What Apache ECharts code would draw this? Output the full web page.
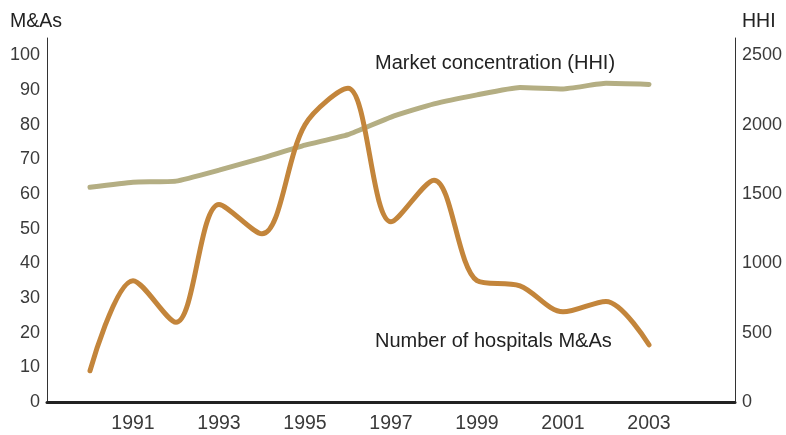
<!DOCTYPE html>
<html>
<head>
<meta charset="utf-8">
<script src="https://cdn.jsdelivr.net/npm/echarts@6/dist/echarts.min.js"></script>
<style>
  html, body { margin: 0; padding: 0; background: #fff; }
  #chart { width: 786px; height: 435px; }
</style>
</head>
<body>
<div id="chart"></div>
<script>
// data
var years = [1990, 1991, 1992, 1993, 1994, 1995, 1996, 1997, 1998, 1999, 2000, 2001, 2002, 2003];
var mergers = [9, 35, 23, 57, 48.5, 80, 90.5, 52, 64, 35, 33.5, 26, 29, 16.5];
var hhi = [1548, 1585, 1593, 1672, 1759, 1852, 1928, 2055, 2150, 2215, 2268, 2258, 2298, 2290];

var xLabels = [1991, 1993, 1995, 1997, 1999, 2001, 2003];

function pairs(vals) {
    var out = [];
    for (var i = 0; i < years.length; i++) {
        out.push([years[i], vals[i]]);
    }
    return out;
}

var font = '"Liberation Sans", Arial, sans-serif';
var myChart = echarts.init(document.getElementById('chart'));

var option = {
    animation: false,
    grid: { left: 47, right: 51, top: 38, bottom: 33 },
    xAxis: {
        type: 'value',
        min: 1989,
        max: 2005,
        interval: 2,
        splitLine: { show: false },
        axisTick: { show: false },
        axisLine: { show: true, lineStyle: { color: '#222', width: 3 } },
        axisLabel: {
            margin: 12,
            color: '#3a3a3a',
            fontSize: 19.5,
            fontFamily: font,
            formatter: function (v) {
                return xLabels.indexOf(v) >= 0 ? String(v) : '';
            }
        }
    },
    yAxis: [{
        type: 'value',
        min: 0,
        max: 105,
        interval: 10,
        splitLine: { show: false },
        axisTick: { show: false },
        axisLine: { show: true, lineStyle: { color: '#333', width: 1 } },
        axisLabel: {
            margin: 7,
            color: '#3a3a3a',
            fontSize: 18,
            fontFamily: font,
            formatter: function (v) { return v % 10 === 0 ? String(v) : ''; }
        }
    }, {
        type: 'value',
        min: 0,
        max: 2625,
        interval: 500,
        position: 'right',
        splitLine: { show: false },
        axisTick: { show: false },
        axisLine: { show: true, lineStyle: { color: '#333', width: 1 } },
        axisLabel: {
            margin: 7,
            color: '#3a3a3a',
            fontSize: 18,
            fontFamily: font,
            formatter: function (v) { return v % 500 === 0 ? String(v) : ''; }
        }
    }],
    series: [{
        name: 'HHI',
        type: 'line',
        yAxisIndex: 1,
        data: pairs(hhi),
        smooth: 0.15,
        showSymbol: false,
        lineStyle: { color: '#b4ae83', width: 5, cap: 'round' }
    }, {
        name: 'M&As',
        type: 'line',
        yAxisIndex: 0,
        data: pairs(mergers),
        smooth: 0.32,
        showSymbol: false,
        lineStyle: { color: '#c3853b', width: 5, cap: 'round' }
    }],
    graphic: [
        { type: 'text', left: 10, top: 12, style: { text: 'M&As', font: '19.5px ' + font, fill: '#222' } },
        { type: 'text', left: 742, top: 12, style: { text: 'HHI', font: '19.5px ' + font, fill: '#222' } },
        { type: 'text', left: 375, top: 53, style: { text: 'Market concentration (HHI)', font: '20px ' + font, fill: '#222' } },
        { type: 'text', left: 375, top: 331, style: { text: 'Number of hospitals M&As', font: '20px ' + font, fill: '#222' } }
    ]
};

myChart.setOption(option);
</script>
</body>
</html>
